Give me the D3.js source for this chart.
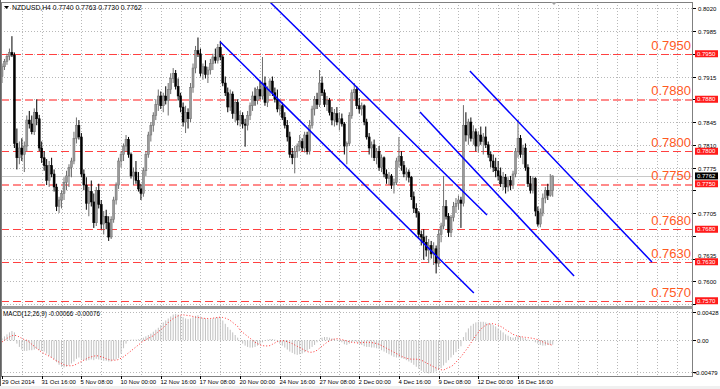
<!doctype html>
<head>
<meta charset="utf-8">
<title>NZDUSD,H4</title>
<script src="https://d3js.org/d3.v7.min.js"></script>
<style>
  body { margin: 0; background: #fff; }
  text { font-family: "Liberation Sans", Arial, sans-serif; }
</style>
</head>
<body>
<svg id="chart" width="720" height="389"></svg>
<script>
// prices in pips (7762 = 0.7762), one entry per H4 bar
const opens = [
  7915,7930,7938,7946,7952,7948,7812,7790,7805,7795,
  7808,7848,7842,7830,7860,7850,7805,7790,7778,7755,
  7778,7765,7745,7715,7725,7735,7752,7762,7775,7785,
  7820,7840,7822,7765,7748,7720,7738,7722,7690,7740,
  7718,7688,7700,7690,7668,7695,7725,7748,7785,7795,
  7808,7818,7795,7762,7768,7755,7742,7735,7770,7795,
  7825,7840,7855,7872,7885,7870,7885,7878,7895,7912,
  7920,7900,7885,7868,7845,7860,7850,7898,7928,7955,
  7950,7920,7930,7918,7925,7935,7945,7940,7960,7945,
  7905,7890,7868,7888,7858,7875,7848,7855,7842,7840,
  7855,7870,7885,7878,7895,7885,7905,7875,7895,7908,
  7890,7880,7865,7870,7852,7840,7822,7795,7790,7800,
  7808,7815,7805,7825,7800,7840,7865,7880,7872,7905,
  7890,7872,7878,7860,7848,7858,7845,7850,7842,7808,
  7812,7855,7890,7895,7870,7865,7870,7845,7822,7805,
  7810,7790,7800,7775,7790,7765,7758,7762,7748,7752,
  7785,7792,7778,7765,7768,7760,7730,7712,7705,7672,
  7668,7660,7648,7655,7642,7650,7628,7672,7685,7715,
  7700,7675,7698,7715,7720,7725,7720,7840,7825,7845,
  7820,7830,7808,7825,7815,7822,7810,7795,7785,7775,
  7770,7762,7750,7760,7745,7755,7748,7765,7800,7820,
  7795,7805,7775,7750,7740,7758,7708,7688,7705,7728,
  7740,7732,7740];
const highs = [
  7935,7942,7950,7958,7977,7952,7835,7815,7820,7815,
  7855,7862,7855,7866,7880,7856,7815,7800,7788,7785,
  7790,7772,7750,7730,7740,7760,7770,7780,7790,7830,
  7852,7848,7828,7772,7760,7745,7755,7735,7745,7750,
  7725,7708,7710,7700,7700,7730,7752,7790,7800,7812,
  7825,7822,7798,7775,7785,7768,7750,7775,7800,7830,
  7845,7860,7880,7895,7892,7890,7900,7905,7920,7928,
  7925,7912,7890,7875,7870,7866,7905,7935,7962,7975,
  7958,7935,7940,7930,7942,7950,7958,7965,7970,7948,
  7915,7898,7895,7892,7880,7880,7862,7860,7850,7862,
  7875,7892,7898,7900,7908,7945,7915,7900,7912,7915,
  7898,7895,7880,7875,7860,7848,7830,7805,7808,7812,
  7825,7820,7830,7830,7848,7870,7885,7890,7925,7915,
  7895,7885,7882,7868,7865,7868,7860,7858,7845,7815,
  7860,7895,7905,7900,7882,7875,7872,7850,7828,7815,
  7818,7805,7808,7795,7792,7772,7768,7765,7758,7790,
  7822,7800,7785,7775,7772,7762,7738,7720,7708,7678,
  7680,7670,7665,7662,7660,7655,7680,7690,7762,7725,
  7705,7702,7722,7728,7732,7730,7871,7860,7850,7852,
  7840,7835,7830,7838,7828,7838,7815,7800,7795,7790,
  7785,7775,7768,7765,7760,7762,7770,7805,7848,7825,
  7810,7812,7780,7762,7761,7760,7715,7712,7735,7745,
  7750,7765,7763];
const lows = [
  7905,7925,7933,7940,7945,7805,7772,7780,7785,7768,
  7800,7835,7826,7825,7840,7800,7782,7770,7748,7745,
  7760,7738,7708,7705,7712,7725,7740,7745,7760,7780,
  7812,7818,7760,7740,7710,7700,7715,7682,7685,7712,
  7680,7672,7680,7662,7665,7690,7718,7742,7775,7785,
  7800,7790,7758,7748,7750,7738,7725,7730,7762,7790,
  7815,7830,7848,7862,7865,7860,7872,7855,7888,7905,
  7895,7878,7860,7838,7828,7835,7845,7890,7920,7945,
  7915,7910,7912,7905,7918,7925,7935,7935,7940,7900,
  7885,7860,7862,7850,7845,7840,7838,7835,7807,7832,
  7848,7862,7870,7872,7880,7880,7870,7868,7885,7885,
  7875,7860,7855,7848,7835,7815,7790,7780,7766,7790,
  7800,7800,7798,7795,7795,7835,7855,7865,7868,7885,
  7868,7862,7855,7840,7838,7840,7832,7838,7795,7780,
  7808,7850,7880,7865,7858,7855,7840,7818,7795,7790,
  7785,7780,7770,7768,7760,7750,7748,7742,7735,7748,
  7775,7770,7760,7755,7752,7725,7705,7698,7665,7655,
  7633,7638,7628,7635,7625,7612,7622,7660,7680,7695,
  7668,7668,7692,7705,7710,7682,7715,7815,7810,7815,
  7810,7800,7798,7810,7795,7805,7790,7775,7768,7760,
  7755,7745,7740,7735,7738,7740,7742,7760,7790,7790,
  7780,7770,7745,7735,7735,7700,7684,7683,7700,7720,
  7725,7730,7730];
const closes = [
  7930,7938,7946,7952,7948,7812,7790,7805,7795,7808,
  7848,7842,7830,7860,7850,7805,7790,7778,7755,7778,
  7765,7745,7715,7725,7735,7752,7762,7775,7785,7820,
  7840,7822,7765,7748,7720,7738,7722,7690,7740,7718,
  7688,7700,7690,7668,7695,7725,7748,7785,7795,7808,
  7818,7795,7762,7768,7755,7742,7735,7770,7795,7825,
  7840,7855,7872,7885,7870,7885,7878,7895,7912,7920,
  7900,7885,7868,7845,7860,7850,7898,7928,7955,7950,
  7920,7930,7918,7925,7935,7945,7940,7960,7945,7905,
  7890,7868,7888,7858,7875,7848,7855,7842,7840,7855,
  7870,7885,7878,7895,7885,7905,7875,7895,7908,7890,
  7880,7865,7870,7852,7840,7822,7795,7790,7800,7808,
  7815,7805,7825,7800,7840,7865,7880,7872,7905,7890,
  7872,7878,7860,7848,7858,7845,7850,7842,7808,7812,
  7855,7890,7895,7870,7865,7870,7845,7822,7805,7810,
  7790,7800,7775,7790,7765,7758,7762,7748,7752,7785,
  7792,7778,7765,7768,7760,7730,7712,7705,7672,7668,
  7660,7648,7655,7642,7650,7628,7672,7685,7715,7700,
  7675,7698,7715,7720,7725,7720,7840,7825,7845,7820,
  7830,7808,7825,7815,7822,7810,7795,7785,7775,7770,
  7762,7750,7760,7745,7755,7748,7765,7800,7820,7795,
  7805,7775,7750,7740,7758,7708,7688,7705,7728,7740,
  7732,7740,7762];

// MACD(12,26,9) in thousandths (-0.66 = -0.00066)
const macdMain = [
  0.3,0.6,0.9,1.2,1.4,1.2,-0.5,-1.0,-1.4,-1.6,
  -1.6,-1.5,-1.5,-1.4,-1.3,-1.5,-1.6,-1.7,-2.0,-2.3,
  -2.6,-2.9,-3.3,-3.7,-4.0,-4.1,-4.0,-3.8,-3.5,-3.2,
  -2.8,-2.6,-2.8,-3.0,-3.1,-3.0,-2.9,-3.0,-2.8,-2.9,
  -3.0,-3.1,-3.1,-3.2,-3.2,-3.0,-2.9,-2.7,-2.0,-1.2,
  -0.5,0.05,0.1,0.1,0.1,0.15,0.2,0.4,0.6,0.8,
  1.0,1.3,1.6,1.9,2.3,2.7,3.0,3.3,3.6,3.9,
  4.0,3.9,3.7,3.5,3.3,3.2,3.3,3.5,3.7,3.8,
  3.6,3.4,3.3,3.2,3.2,3.3,3.4,3.5,3.5,3.0,
  2.5,2.0,1.6,1.2,0.8,0.4,-0.1,-0.5,-0.8,-1.0,
  -1.1,-1.1,-1.0,-0.8,-0.6,-0.3,-0.1,0.1,0.2,0.2,
  0.1,-0.2,-0.5,-0.8,-1.1,-1.4,-1.7,-1.9,-2.1,-2.2,
  -2.1,-2.0,-1.8,-1.6,-1.3,-1.0,-0.7,-0.3,0.1,0.4,
  0.5,0.5,0.4,0.3,0.2,0.1,-0.1,-0.3,-0.6,-0.7,
  -0.5,-0.3,-0.2,-0.3,-0.5,-0.7,-0.9,-1.0,-1.0,-1.1,
  -1.1,-1.2,-1.3,-1.5,-1.7,-1.9,-2.1,-2.3,-2.5,-2.6,
  -2.6,-2.7,-2.8,-3.0,-3.2,-3.4,-3.7,-4.0,-4.3,-4.6,
  -4.8,-4.9,-5.0,-4.9,-4.8,-4.7,-4.5,-4.2,-3.8,-3.4,
  -3.0,-2.6,-2.2,-1.8,-1.3,-0.9,0.5,1.2,1.8,2.2,
  2.5,2.7,2.8,2.8,2.8,2.7,2.6,2.5,2.3,2.1,
  1.8,1.5,1.2,0.9,0.7,0.5,0.4,0.5,0.7,0.6,
  0.4,0.3,0.1,0.0,-0.1,-0.3,-0.5,-0.7,-0.8,-0.8,
  -0.7,-0.7,-0.66];
const macdSignal = [
  -0.25,0.0,0.3,0.5,0.7,0.75,0.7,0.5,0.3,0.1,
  0.0,-0.3,-0.6,-0.9,-1.2,-1.5,-1.8,-2.0,-2.2,-2.4,
  -2.6,-2.9,-3.1,-3.3,-3.5,-3.7,-3.8,-3.85,-3.85,-3.8,
  -3.6,-3.4,-3.2,-3.0,-2.8,-2.6,-2.5,-2.4,-2.3,-2.4,
  -2.5,-2.6,-2.8,-2.9,-3.0,-3.0,-3.0,-2.9,-2.7,-2.5,
  -2.2,-1.9,-1.6,-1.3,-1.0,-0.7,-0.4,-0.1,0.1,0.3,
  0.5,0.7,1.0,1.3,1.6,1.9,2.3,2.7,3.0,3.3,
  3.5,3.7,3.8,3.85,3.8,3.75,3.7,3.6,3.5,3.45,
  3.4,3.35,3.3,3.3,3.3,3.35,3.4,3.45,3.5,3.45,
  3.35,3.2,3.0,2.7,2.4,2.1,1.5,1.2,0.9,0.6,
  0.3,0.0,-0.3,-0.5,-0.7,-0.8,-0.85,-0.85,-0.8,-0.6,
  -0.4,-0.2,-0.1,-0.05,-0.1,-0.2,-0.35,-0.5,-0.7,-0.9,
  -1.1,-1.3,-1.5,-1.7,-1.8,-1.8,-1.7,-1.5,-1.2,-0.9,
  -0.6,-0.3,-0.1,0.1,0.2,0.25,0.2,0.1,0.0,-0.1,
  -0.2,-0.3,-0.35,-0.4,-0.4,-0.35,-0.3,-0.3,-0.3,-0.35,
  -0.4,-0.5,-0.6,-0.8,-1.0,-1.2,-1.4,-1.6,-1.8,-2.0,
  -2.2,-2.4,-2.6,-2.7,-2.8,-2.85,-2.85,-2.85,-2.9,-3.0,
  -3.2,-3.4,-3.6,-3.8,-4.0,-4.2,-4.35,-4.45,-4.5,-4.3,
  -4.1,-4.0,-3.7,-3.3,-2.9,-2.5,-2.0,-1.5,-1.0,-0.4,
  0.2,0.7,1.2,1.7,2.0,2.3,2.45,2.5,2.5,2.4,
  2.3,2.1,1.9,1.6,1.4,1.15,0.9,0.75,0.6,0.55,
  0.5,0.45,0.4,0.35,0.3,0.2,0.1,-0.05,-0.25,-0.4,
  -0.55,-0.65,-0.76];

// horizontal levels drawn on the chart
const levels = [0.7950, 0.7880, 0.7800, 0.7750, 0.7680, 0.7630, 0.7570];
// trend lines: [bar index, price] end points
const trendLines = [
  [[87.9, 0.79685], [190.2, 0.75819]],
  [[108.0, 0.80296], [195.5, 0.77019]],
  [[168.5, 0.78604], [230.6, 0.76081]],
  [[188.6, 0.79235], [262.0, 0.76296]]
];
const priceTicks = [0.8020, 0.7985, 0.7950, 0.7915, 0.7880, 0.7845, 0.7810, 0.7775,
  0.7740, 0.7705, 0.7670, 0.7635, 0.7600, 0.7565];
const timeTicks = [0, 16, 32, 48, 64, 80, 96, 112, 128, 144, 160, 176, 192, 208];
const timeLabels = ["29 Oct 2014", "31 Oct 16:00", "5 Nov 08:00", "10 Nov 00:00", "12 Nov 16:00",
  "17 Nov 08:00", "20 Nov 00:00", "24 Nov 16:00", "27 Nov 08:00", "2 Dec 00:00",
  "4 Dec 16:00", "9 Dec 08:00", "12 Dec 00:00", "16 Dec 16:00"];
const macdTicks = [0.00428, 0, -0.00479];
const macdTickLabels = ["0.00428", "0.00", "-0.00479"];
const lastPrice = 0.7762;

const svg = d3.select("#chart");
const L = 1, R = 693, top1 = 2, bot1 = 306, top2 = 308, bot2 = 376;

const x = d3.scaleLinear().domain([0, 208]).range([2, 518]);
const y = d3.scaleLinear().domain([0.7565, 0.8020]).range([304, 8.25]);
const ym = d3.scaleLinear().domain([-0.00479, 0.00428]).range([372, 312]);
const pip = v => v / 10000;

svg.append("rect").attr("width", 720).attr("height", 389).attr("fill", "#fff");
svg.append("rect").attr("y", 386).attr("width", 720).attr("height", 3).attr("fill", "#f0f0f0");

svg.append("clipPath").attr("id", "clipMain").append("rect")
  .attr("x", L).attr("y", top1).attr("width", R - L).attr("height", bot1 - top1);
svg.append("clipPath").attr("id", "clipMacd").append("rect")
  .attr("x", L).attr("y", top2).attr("width", R - L).attr("height", bot2 - top2);

// grid
const grid = svg.append("g").attr("stroke", "#b8b8b8").attr("stroke-dasharray", "1,2")
  .attr("shape-rendering", "crispEdges");
d3.range(8, 281, 8).forEach(b => {
  const gx = Math.round(x(b)) + 0.5;
  if (gx > R) return;
  grid.append("line").attr("x1", gx).attr("x2", gx).attr("y1", top1).attr("y2", bot1);
  grid.append("line").attr("x1", gx).attr("x2", gx).attr("y1", top2).attr("y2", bot2);
});
priceTicks.forEach(p => {
  const gy = Math.round(y(p)) + 0.5;
  grid.append("line").attr("x1", L).attr("x2", R).attr("y1", gy).attr("y2", gy);
});
macdTicks.forEach(v => {
  const gy = Math.round(ym(v)) + 0.5;
  grid.append("line").attr("x1", L).attr("x2", R).attr("y1", gy).attr("y2", gy);
});

const main = svg.append("g").attr("clip-path", "url(#clipMain)");

// last price line
main.append("line").attr("x1", L).attr("x2", R)
  .attr("y1", Math.round(y(lastPrice)) + 0.5).attr("y2", Math.round(y(lastPrice)) + 0.5)
  .attr("stroke", "#c8c8c8").attr("shape-rendering", "crispEdges");

// level lines
const wide = v => v === 0.7880 || v === 0.7750;
levels.forEach(v => {
  main.append("line").attr("x1", L).attr("x2", R)
    .attr("y1", Math.round(y(v)) + 0.5).attr("y2", Math.round(y(v)) + 0.5)
    .attr("stroke", wide(v) ? "#ff8a8a" : "#ff4040")
    .attr("stroke-width", wide(v) ? 2 : 1)
    .attr("stroke-dasharray", "8,4")
    .attr("shape-rendering", "crispEdges");
});

// candles
const bars = d3.range(closes.length);
main.append("g").selectAll("line").data(bars).join("line")
  .attr("x1", i => x(i)).attr("x2", i => x(i))
  .attr("y1", i => y(pip(highs[i]))).attr("y2", i => y(pip(lows[i])))
  .attr("stroke", i => closes[i] >= opens[i] ? "#6e6e6e" : "#000")
  .attr("stroke-width", 1);
main.append("g").selectAll("rect").data(bars).join("rect")
  .attr("x", i => x(i) - 1)
  .attr("width", 2)
  .attr("y", i => y(pip(Math.max(opens[i], closes[i]))))
  .attr("height", i => Math.max(0.8, Math.abs(y(pip(opens[i])) - y(pip(closes[i])))))
  .attr("fill", i => closes[i] >= opens[i] ? "#9a9a9a" : "#000")
  .attr("stroke", i => closes[i] >= opens[i] ? "#6e6e6e" : "#000")
  .attr("stroke-width", 0.5);

// trend lines
trendLines.forEach(t => {
  main.append("line")
    .attr("x1", x(t[0][0])).attr("y1", y(t[0][1]))
    .attr("x2", x(t[1][0])).attr("y2", y(t[1][1]))
    .attr("stroke", "#0000ff").attr("stroke-width", 1.5);
});

// level captions
levels.forEach(v => {
  main.append("text").attr("x", 691).attr("y", y(v) - 4)
    .attr("text-anchor", "end").attr("font-size", 13)
    .attr("fill", "#ff5a1f").text(v.toFixed(4));
});

// MACD panel
const macd = svg.append("g").attr("clip-path", "url(#clipMacd)");
macd.append("g").selectAll("line").data(bars).join("line")
  .attr("x1", i => x(i)).attr("x2", i => x(i))
  .attr("y1", ym(0)).attr("y2", i => ym(macdMain[i] / 1000))
  .attr("stroke", "#c0c0c0").attr("stroke-width", 1);
macd.append("path")
  .attr("d", d3.line().x(i => x(i)).y(i => ym(macdSignal[i] / 1000))(bars))
  .attr("fill", "none").attr("stroke", "#ff3030").attr("stroke-width", 1)
  .attr("stroke-dasharray", "1,2");
svg.append("text").attr("x", 3).attr("y", 316).attr("font-size", 6.3).attr("fill", "#000")
  .text("MACD(12,26,9) " + (macdMain[macdMain.length - 1] / 1000).toFixed(5) + " " +
    (macdSignal[macdSignal.length - 1] / 1000).toFixed(5));

// frames
const frame = svg.append("g").attr("fill", "none").attr("stroke", "#808080")
  .attr("shape-rendering", "crispEdges");
frame.append("rect").attr("x", L + 0.5).attr("y", top1 + 0.5).attr("width", R - L - 1).attr("height", bot1 - top1);
frame.append("rect").attr("x", L + 0.5).attr("y", top2 + 0.5).attr("width", R - L - 1).attr("height", bot2 - top2);
svg.append("rect").attr("x", L).attr("y", bot1).attr("width", R - L).attr("height", top2 - bot1 + 1)
  .attr("fill", "#9a9a9a");
svg.append("line").attr("x1", 0.5).attr("x2", 0.5).attr("y1", 0).attr("y2", 386)
  .attr("stroke", "#606060").attr("shape-rendering", "crispEdges");

// header
svg.append("path").attr("d", "M4,6 L9,6 L6.5,9 Z").attr("fill", "#000");
svg.append("text").attr("x", 12).attr("y", 9.5).attr("font-size", 6.8).attr("fill", "#000")
  .text("NZDUSD,H4  " + [opens, highs, lows, closes].map(a => pip(a[a.length - 1]).toFixed(4)).join(" "));
// chart shift marker
svg.append("path").attr("d", "M551,2 L557,2 L554,5 Z").attr("fill", "#a0a0a0");

// right price axis
const ax = svg.append("g").attr("font-size", 6);
priceTicks.forEach(p => {
  const ty = Math.round(y(p)) + 0.5;
  ax.append("line").attr("x1", R).attr("x2", R + 3).attr("y1", ty).attr("y2", ty)
    .attr("stroke", "#000").attr("shape-rendering", "crispEdges");
  // a label sitting on or just under a level box is covered by it; one just above is lifted clear
  const d = levels.map(v => y(v) - y(p)).find(dd => Math.abs(dd) < 8);
  if (d !== undefined && d < 1) return;
  const ly = d !== undefined ? ty + d - 4.5 : ty + 2;
  ax.append("text").attr("x", 698).attr("y", Math.min(ly, ty + 2)).attr("fill", "#000").text(p.toFixed(4));
});
levels.forEach(v => {
  const ty = y(v);
  ax.append("rect").attr("x", 695).attr("y", ty - 3.5).attr("width", 23).attr("height", 7)
    .attr("fill", "#ff1a1a");
  ax.append("text").attr("x", 697).attr("y", ty + 2).attr("fill", "#fff").text(v.toFixed(4));
});
ax.append("rect").attr("x", 695).attr("y", y(lastPrice) - 3.5).attr("width", 23).attr("height", 7)
  .attr("fill", "#000");
ax.append("text").attr("x", 697).attr("y", y(lastPrice) + 2).attr("fill", "#fff").text(lastPrice.toFixed(4));

macdTicks.forEach((v, k) => {
  const ty = Math.round(ym(v)) + 0.5;
  ax.append("line").attr("x1", R).attr("x2", R + 3).attr("y1", ty).attr("y2", ty)
    .attr("stroke", "#000").attr("shape-rendering", "crispEdges");
  ax.append("text").attr("x", v < 0 ? 694 : 697).attr("y", ty + 2).attr("fill", "#000").text(macdTickLabels[k]);
});

// time axis
const tx = svg.append("g").attr("font-size", 6);
timeTicks.forEach((b, k) => {
  const px = Math.round(x(b)) + 0.5;
  tx.append("line").attr("x1", px).attr("x2", px).attr("y1", bot2).attr("y2", bot2 + 3)
    .attr("stroke", "#000").attr("shape-rendering", "crispEdges");
  tx.append("text").attr("x", k === 0 ? 2 : px - 1).attr("y", 384).attr("fill", "#000").text(timeLabels[k]);
});
</script>
</body>
